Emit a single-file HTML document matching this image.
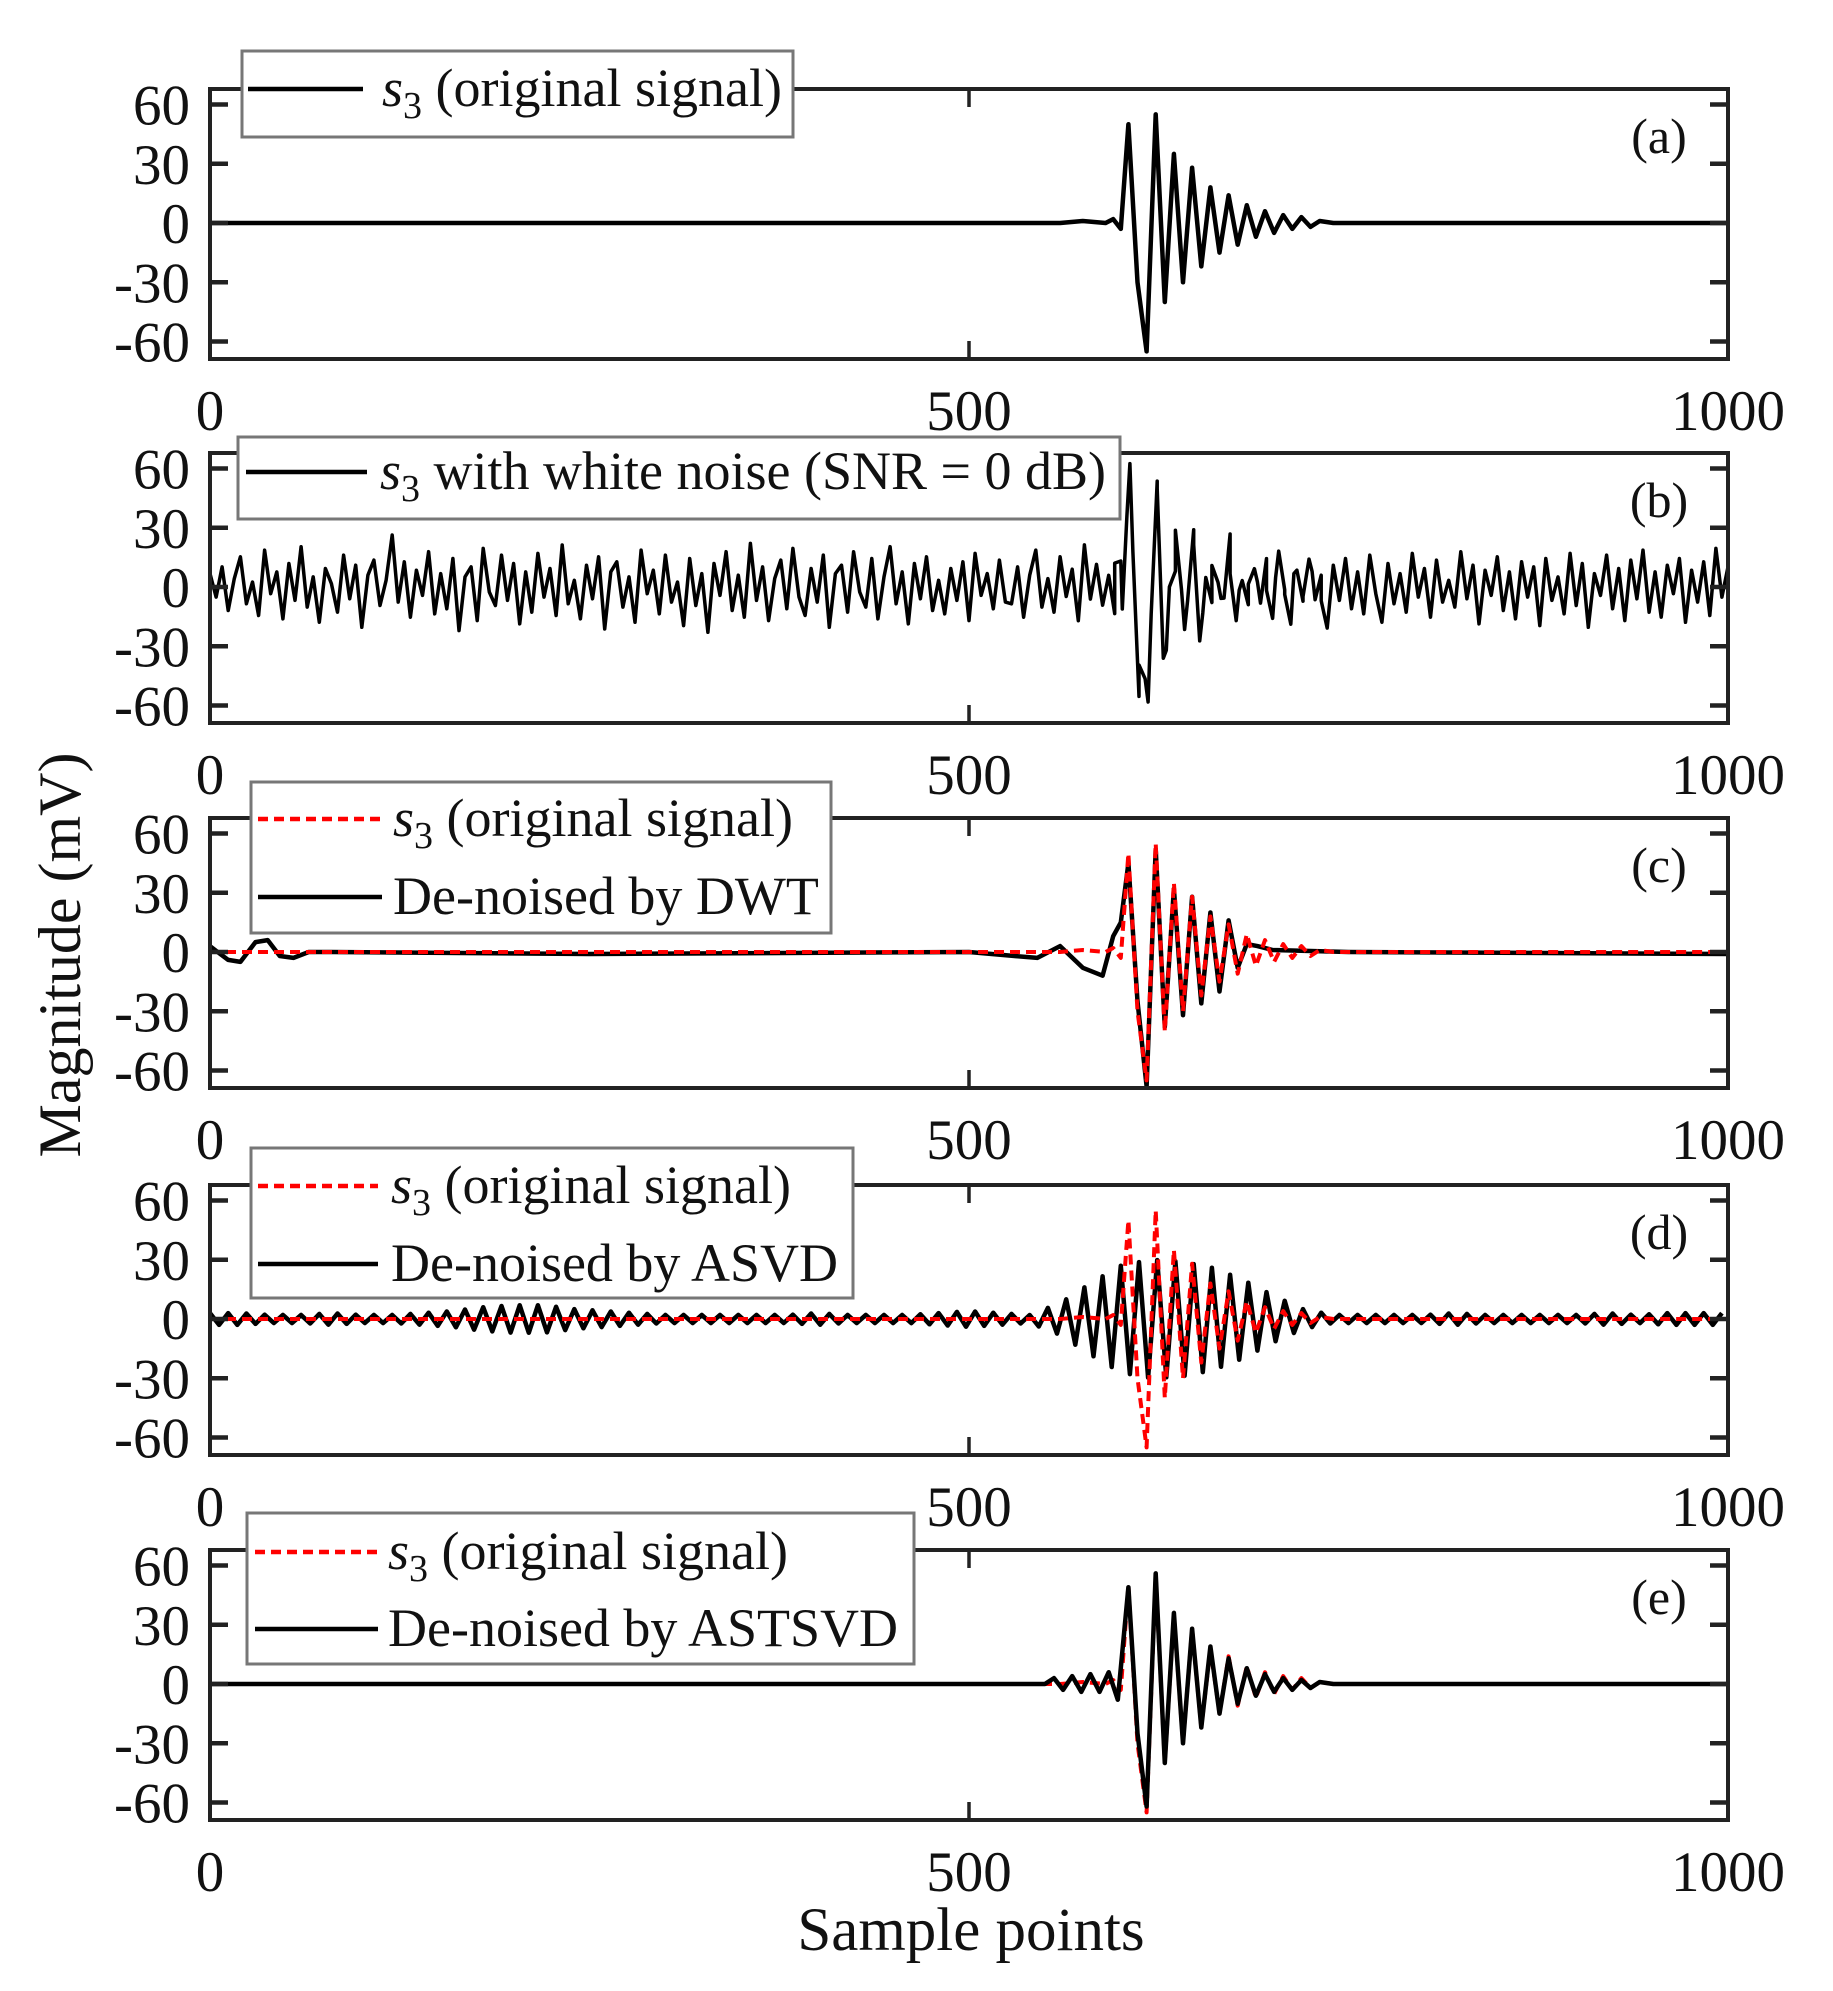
<!DOCTYPE html>
<html><head><meta charset="utf-8">
<style>
html,body{margin:0;padding:0;background:#fff;}
svg{display:block;font-family:"Liberation Serif",serif;}
</style></head>
<body>
<svg id="chart" width="1833" height="1991" viewBox="0 0 1833 1991" xmlns="http://www.w3.org/2000/svg">
<rect x="0" y="0" width="1833" height="1991" fill="#fff"/>
</svg>
<script>
// ---- data ----
const xTicks = [0, 500, 1000];
const yTicks = [60, 30, 0, -30, -60];
const panelLabels = ["(a)", "(b)", "(c)", "(d)", "(e)"];
// original signal s3: extreme points
const s3X = [0,560,575,590,595,600,605,611,617,623,629,635,641,647,653,659,665,671,677,683,689,695,701,707,713,719,725,731,740,1000];
const s3Y = [0,0,1,0,2,-3,50,-30,-65,55,-40,35,-30,28,-22,18,-15,14,-11,9,-7,6,-5,4,-3,3,-2,1,0,0];
// white noise samples (every 4 samples)
const noise = [8,-6,12,-14,5,18,-10,3,-17,22,-4,9,-19,14,-8,24,-12,6,-21,11,2,-15,19,-7,13,-24,7,16,-11,4,31,-9,15,-18,10,-5,21,-16,8,-13,17,-26,6,12,-20,23,-3,-11,19,-8,14,-22,9,-15,20,-6,11,-17,25,-10,4,-19,13,-7,18,-25,9,15,-12,6,-21,22,-4,10,-16,19,-9,3,-23,17,-11,8,-27,14,-5,21,-14,7,-18,26,-8,12,-20,5,16,-13,23,-6,-17,11,-9,19,-24,8,13,-15,21,-3,-12,17,-19,6,24,-10,9,-22,14,-7,18,-14,4,-16,11,-8,15,-20,20,-5,8,-13,16,-9,-10,12,-18,7,22,-12,5,-15,18,-6,10,-21,24,-8,13,-11,6,-17,19,-4,9,-23,15,-10,17,-14,3,-19,21,-7,11,-16,8,-24,14,-6,20,-12,5,-18,16,-9,12,-15,22,-5,-20,10,-11,18,-7,6,-25,13,-8,17,-13,9,-16,19,-4,-21,14,-10,8,-15,20,-6,11,-18,16,-9,4,-12,21,-7,13,-22,10,-5,18,-14,9,-19,15,-6,12,-23,17,-8,6,-16,20,-11,14,-24,8,-5,19,-13,11,-20,16,-7,22,-15,9,-18,13,-4,17,-21,10,-9,15,-17,23,-6,12,-26,14,-8,20];
// DWT de-noised result
const dwtX = [0,5,12,20,30,38,46,55,65,80,250,500,530,545,560,575,588,595,600,605,611,617,623,629,635,641,647,653,659,665,671,677,683,690,700,750,1000];
const dwtY = [3,0,-4,-5,5,6,-2,-3,0,0,-1,0,-2,-3,3,-8,-12,8,15,45,-25,-68,52,-38,32,-32,28,-26,20,-20,16,-8,4,3,1,0,-1];
// ASVD de-noised result: oscillation envelope sampled every 20 samples
const asvdEnv = [3,3,2,2,3,2,2,3,4,6,7,7,5,4,3,2,2,2,2,2,3,2,2,2,3,4,3,2,8,18,27,30,29,26,20,12,5,2,2,2,2,3,2,2,2,2,3,2,3,3,3];
// ASTSVD de-noised result
const astX = [0,550,556,562,568,574,580,586,592,598,605,611,617,623,629,635,641,647,653,659,665,671,677,683,689,695,701,707,713,719,725,731,740,1000];
const astY = [0,0,3,-3,4,-4,5,-4,6,-8,49,-25,-62,56,-40,36,-30,28,-22,19,-15,13,-10,8,-6,5,-4,3,-3,2,-2,1,0,0];

// ---- layout ----
const NS = "http://www.w3.org/2000/svg";
const svg = document.getElementById("chart");
const X0 = 210, X1 = 1728;
const zeros = [223, 587, 952, 1319, 1684];
const PPU = 1.975;
function sx(v){ return X0 + (v/1000)*(X1-X0); }
function mk(tag, attrs, parent){
  const e = document.createElementNS(NS, tag);
  for (const k in attrs) e.setAttribute(k, attrs[k]);
  (parent||svg).appendChild(e);
  return e;
}
function interp(xs, ys, x){
  for (let i=0;i<xs.length-1;i++){
    if (x>=xs[i] && x<=xs[i+1]){ const t=(x-xs[i])/(xs[i+1]-xs[i]||1); return ys[i]+t*(ys[i+1]-ys[i]); }
  }
  return 0;
}
function pathFrom(pts, sy){
  return pts.map((p,i)=>(i?"L":"M")+sx(p[0]).toFixed(1)+","+sy(Math.max(-68,Math.min(70,p[1]))).toFixed(1)).join("");
}

zeros.forEach((z, pi) => {
  const sy = v => z - v*PPU;
  const top = z - 134, bot = z + 136;
  const g = mk("g", {});
  
  
  const series = [];
  if (pi === 0) {
    series.push({pts: s3X.map((x,i)=>[x,s3Y[i]]), color:"#000", dash:null, w:4.5, name:"s3-line"});
  } else if (pi === 1) {
    const pts = [];
    noise.forEach((n,i)=>{ const x=i*4; if(x<=1000) pts.push([x, n*0.85 + interp(s3X,s3Y,x)]); });
    const merged = pts.concat(s3X.slice(4,28).map((x,i)=>[x+1, s3Y[i+4]*1.05 + (i%2? -8: 10)])).sort((a,b)=>a[0]-b[0]);
    series.push({pts: merged, color:"#000", dash:null, w:3.5, name:"noisy-signal-line"});
  } else {
    let den;
    if (pi === 2) den = dwtX.map((x,i)=>[x,dwtY[i]]);
    else if (pi === 3) {
      den = [];
      for (let x=0, k=0; x<=1000; x+=6, k++){
        const j = Math.min(49, Math.floor(x/20)), t=(x-j*20)/20;
        const env = asvdEnv[j] + t*(asvdEnv[j+1]-asvdEnv[j]);
        den.push([x, (k%2?-1:1)*env]);
      }
    } else den = astX.map((x,i)=>[x,astY[i]]);
    series.push({pts: den, color:"#000", dash:null, w:4.5, name:"denoised-line"});
    series.push({pts: s3X.map((x,i)=>[x,s3Y[i]]), color:"#f00", dash:"10,6", w:4, name:"original-dashed-line"});
    if (pi===4) series.reverse();
  }
  series.forEach(s=>{
    const p = mk("path", {d: pathFrom(s.pts, sy), fill:"none", stroke:s.color, "stroke-width":s.w, "stroke-linejoin":"round"}, g);
    if (s.dash) p.setAttribute("stroke-dasharray", s.dash);
    
    
  });
  const fr = mk("rect", {x:X0, y:top, width:X1-X0, height:bot-top, fill:"none", stroke:"#222", "stroke-width":4}, g);
  
  
  yTicks.forEach(v=>{
    const y = sy(v);
    mk("line",{x1:X0,y1:y,x2:X0+18,y2:y,stroke:"#222","stroke-width":4.5},g);
    mk("line",{x1:X1-18,y1:y,x2:X1,y2:y,stroke:"#222","stroke-width":4.5},g);
    const t = mk("text",{x:190,y:y+20,"text-anchor":"end","font-size":57,fill:"#111"},g);
    t.textContent = v;
    
    
  });
  xTicks.forEach(v=>{
    const x = sx(v);
    if (v>0 && v<1000){
      mk("line",{x1:x,y1:top,x2:x,y2:top+18,stroke:"#222","stroke-width":3.5},g);
      mk("line",{x1:x,y1:bot-18,x2:x,y2:bot,stroke:"#222","stroke-width":3.5},g);
    }
    const t = mk("text",{x:x,y:z+207,"text-anchor":"middle","font-size":57,fill:"#111"},g);
    t.textContent = v;
    
    
  });
  const pl = mk("text",{x:1659,y:z-70,"text-anchor":"middle","font-size":50,fill:"#111"},g);
  pl.textContent = panelLabels[pi];
  
  
});

const legends = [
  {box:[242,51,551,86], rows:[{y:89,l:[248,363],tx:382,c:"#000",d:null,txt:"(original signal)",s3:true}]},
  {box:[238,437,882,82], rows:[{y:472,l:[246,367],tx:380,c:"#000",d:null,txt:"with white noise (SNR = 0 dB)",s3:true}]},
  {box:[251,782,580,151], rows:[{y:819,l:[258,382],tx:393,c:"#f00",d:"10,6",txt:"(original signal)",s3:true},{y:897,l:[258,382],tx:393,c:"#000",d:null,txt:"De-noised by DWT",s3:false}]},
  {box:[251,1148,602,150], rows:[{y:1186,l:[258,378],tx:391,c:"#f00",d:"10,6",txt:"(original signal)",s3:true},{y:1264,l:[258,378],tx:391,c:"#000",d:null,txt:"De-noised by ASVD",s3:false}]},
  {box:[247,1513,667,151], rows:[{y:1552,l:[255,378],tx:388,c:"#f00",d:"10,6",txt:"(original signal)",s3:true},{y:1629,l:[255,378],tx:388,c:"#000",d:null,txt:"De-noised by ASTSVD",s3:false}]}
];
legends.forEach((L,i)=>{
  const g = mk("g",{});
  
  
  mk("rect",{x:L.box[0],y:L.box[1],width:L.box[2],height:L.box[3],fill:"#fff",stroke:"#777","stroke-width":3},g);
  L.rows.forEach(r=>{
    const ln = mk("line",{x1:r.l[0],y1:r.y,x2:r.l[1],y2:r.y,stroke:r.c,"stroke-width":4.5},g);
    if (r.d) ln.setAttribute("stroke-dasharray", r.d);
    const t = mk("text",{x:r.tx,y:r.y+17,"font-size":54,fill:"#111"},g);
    if (r.s3){
      t.innerHTML = '<tspan font-style="italic">s</tspan><tspan font-size="38" dy="12">3</tspan><tspan dy="-12"> ' + r.txt + '</tspan>';
    } else t.textContent = r.txt;
    
    
  });
});

const yt = mk("text",{x:0,y:0,"text-anchor":"middle","font-size":60,fill:"#111",transform:"translate(80,955) rotate(-90)"});
yt.textContent = "Magnitude (mV)";


const xt = mk("text",{x:971,y:1950,"text-anchor":"middle","font-size":61,fill:"#111"});
xt.textContent = "Sample points";


</script>
</body></html>
